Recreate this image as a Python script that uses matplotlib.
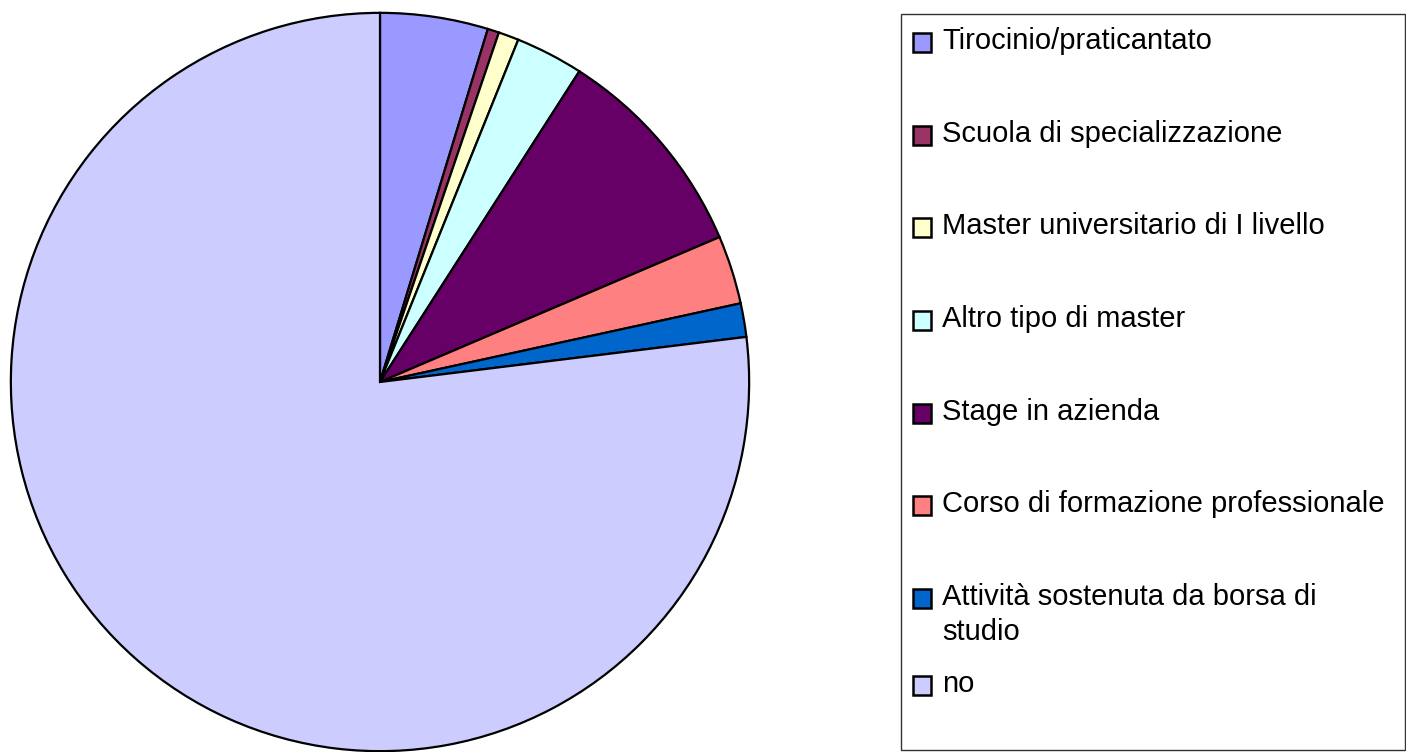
import matplotlib
matplotlib.use("Agg")
import matplotlib.pyplot as plt
from matplotlib.patches import Rectangle

labels = ["Tirocinio/praticantato", "Scuola di specializzazione",
          "Master universitario di I livello", "Altro tipo di master",
          "Stage in azienda", "Corso di formazione professionale",
          "Attività sostenuta da borsa di\nstudio", "no"]
values = [4.72, 0.50, 0.89, 2.97, 9.50, 3.00, 1.47, 76.95]
colors = ["#9999FF", "#993366", "#FFFFCC", "#CCFFFF",
          "#660066", "#FF8080", "#0066CC", "#CCCCFF"]

W, H = 1406, 752
fig = plt.figure(figsize=(W / 100, H / 100), dpi=100)
plt.rcParams['font.family'] = ['Liberation Sans', 'DejaVu Sans']

# pie axes: center (380, 382), radius 371 px
cx, cy, r = 380, 382, 371
ax = fig.add_axes([(cx - r) / W, (H - cy - r) / H, 2 * r / W, 2 * r / H])
ax.pie(values, colors=colors, startangle=90, counterclock=False, radius=1,
       wedgeprops=dict(edgecolor="black", linewidth=1.6))
ax.set_xlim(-1.005, 1.005)
ax.set_ylim(-1.005, 1.005)
ax.set_aspect("auto")
ax.axis("off")

# legend drawn in pixel coordinates
lax = fig.add_axes([0, 0, 1, 1])
lax.set_xlim(0, W)
lax.set_ylim(H, 0)
lax.axis("off")
lax.add_patch(Rectangle((901, 14), W - 901 - 1, 736, fill=False,
                        edgecolor="#333333", linewidth=1.0))
baselines = [49, 141.7, 234.3, 327, 419.7, 512.3, 605, 692]
for lab, col, yb in zip(labels, colors, baselines):
    lax.add_patch(Rectangle((913, yb - 16), 18, 19, facecolor=col,
                            edgecolor="black", linewidth=1.8))
    for i, line in enumerate(lab.split("\n")):
        lax.text(942, yb + 35 * i, line, fontsize=21, va="baseline",
                 ha="left")

fig.savefig("out.png", dpi=100)
